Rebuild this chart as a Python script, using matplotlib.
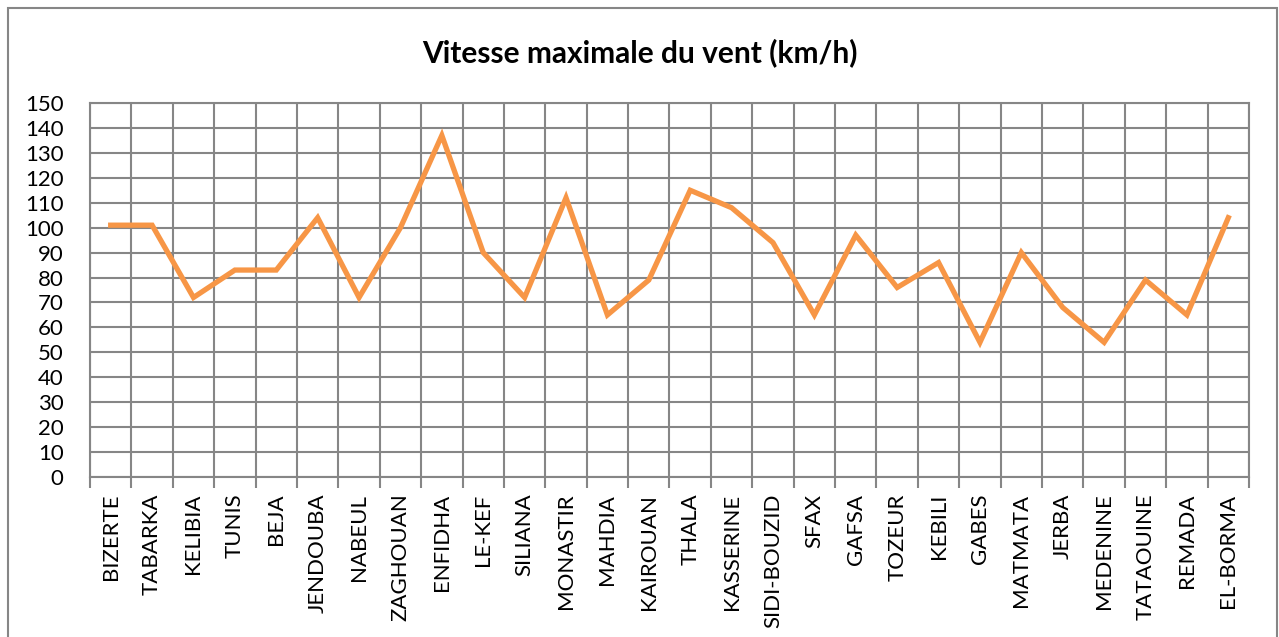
import numpy as np
import matplotlib.pyplot as plt
from matplotlib.patches import Rectangle

stations = ["BIZERTE", "TABARKA", "KELIBIA", "TUNIS", "BEJA", "JENDOUBA", "NABEUL",
            "ZAGHOUAN", "ENFIDHA", "LE-KEF", "SILIANA", "MONASTIR", "MAHDIA", "KAIROUAN",
            "THALA", "KASSERINE", "SIDI-BOUZID", "SFAX", "GAFSA", "TOZEUR", "KEBILI",
            "GABES", "MATMATA", "JERBA", "MEDENINE", "TATAOUINE", "REMADA", "EL-BORMA"]
vitesse = [101, 101, 72, 83, 83, 104, 72, 100, 137, 90, 72, 112, 65, 79, 115, 108,
           94, 65, 97, 76, 86, 54, 90, 68, 54, 79, 65, 104]
yticks = list(range(0, 151, 10))

plt.rcParams['font.family'] = ['Lato', 'DejaVu Sans']

fig = plt.figure(figsize=(12.79, 6.37), dpi=100)
ax = fig.add_axes([90 / 1279, 1 - 477 / 637, (1249 - 90) / 1279, (477 - 103) / 637])

# chart border
fig.patches.append(Rectangle((8 / 1279, -0.01), 1269 / 1279, 1 - 8 / 637 + 0.01,
                             transform=fig.transFigure, fill=False,
                             edgecolor='#868686', linewidth=1.5))

x = np.arange(len(stations))
ax.plot(x, vitesse, color='#F79646', linewidth=3.8, solid_joinstyle='miter', zorder=3)

ax.set_xlim(-0.5, len(stations) - 0.5)
ax.set_ylim(0, 150)
ax.set_yticks(yticks)
ax.set_yticklabels([str(v) for v in yticks], fontsize=16)
ax.set_xticks(x)
ax.set_xticklabels(stations, rotation=90, fontsize=16, va='top')
ax.tick_params(axis='x', length=0, pad=12)
ax.tick_params(axis='y', length=0, pad=19)

# vertical grid at category boundaries + tick marks below axis
ax.set_xticks(np.arange(-0.5, len(stations)), minor=True)
ax.tick_params(axis='x', which='minor', length=8, width=1.5, color='#868686', direction='out')
ax.grid(True, axis='x', which='minor', color='#868686', linewidth=1.5)
ax.grid(True, axis='y', which='major', color='#868686', linewidth=1.5)
for s in ax.spines.values():
    s.set_color('#868686')
    s.set_linewidth(1.5)
ax.set_axisbelow(True)

fig.text(0.5, 1 - 53 / 637, "Vitesse maximale du vent (km/h)", ha='center', va='center',
         fontsize=21.5, fontweight='bold')

fig.savefig("out.png", dpi=100)
